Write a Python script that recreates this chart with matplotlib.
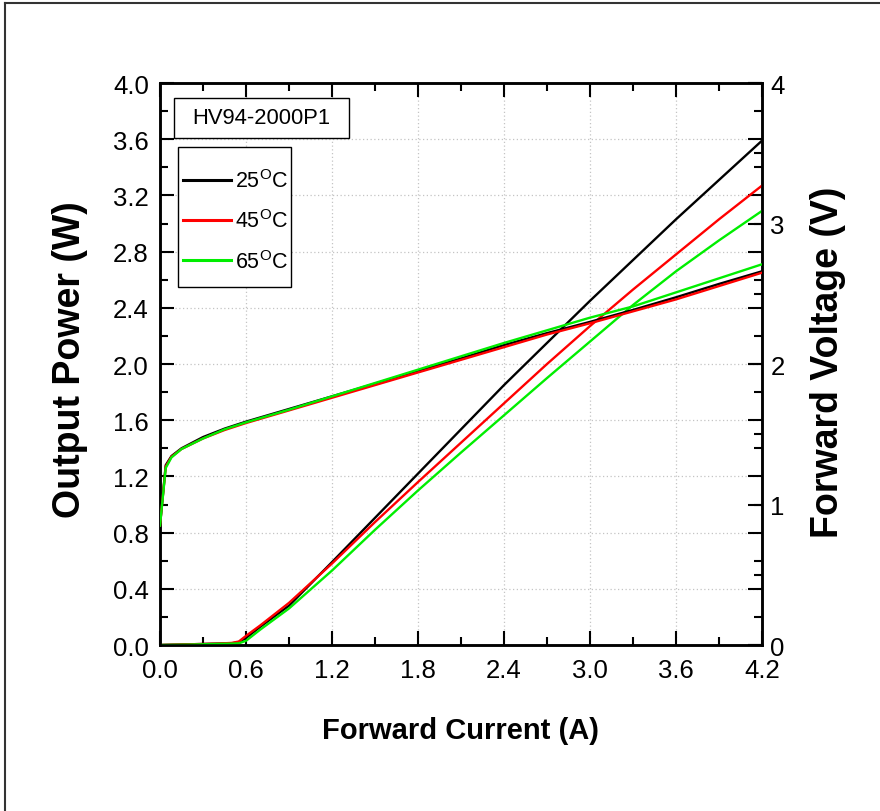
# L-I-V curves of HV94-2000P1 at three case temperatures
import numpy as np
import matplotlib
matplotlib.use("Agg")
import matplotlib.pyplot as plt
from matplotlib.ticker import MultipleLocator
from matplotlib.patches import Rectangle
from matplotlib.lines import Line2D

FONT = ["Liberation Sans", "DejaVu Sans"]
plt.rcParams["font.family"] = FONT
plt.rcParams["mathtext.fontset"] = "custom"
plt.rcParams["mathtext.rm"] = "Liberation Sans"

# ---- data ----
temps = ["25", "45", "65"]
colors = ["#000000", "#ff0000", "#00ee00"]

current_p = [0.0, 0.2, 0.4, 0.5, 0.55, 0.6, 0.7, 0.9, 1.2, 1.5, 1.8, 2.1, 2.4, 2.7, 3.0, 3.3, 3.6, 3.9, 4.2]
power_25 = [0.0, 0.005, 0.01, 0.012, 0.02, 0.05, 0.13, 0.28, 0.59, 0.905, 1.22, 1.535, 1.85, 2.15, 2.45, 2.74, 3.03, 3.31, 3.59]
power_45 = [0.0, 0.005, 0.01, 0.015, 0.025, 0.065, 0.14, 0.30, 0.58, 0.875, 1.16, 1.44, 1.72, 2.00, 2.27, 2.53, 2.78, 3.03, 3.27]
power_65 = [0.0, 0.003, 0.008, 0.01, 0.012, 0.03, 0.11, 0.26, 0.53, 0.82, 1.10, 1.37, 1.635, 1.90, 2.16, 2.42, 2.66, 2.88, 3.09]

current_v = [0.0, 0.04, 0.08, 0.15, 0.3, 0.45, 0.6, 0.9, 1.2, 1.5, 1.8, 2.1, 2.4, 2.7, 3.0, 3.3, 3.6, 3.9, 4.2]
volt_25 = [0.85, 1.28, 1.345, 1.40, 1.48, 1.54, 1.59, 1.68, 1.77, 1.86, 1.95, 2.04, 2.135, 2.22, 2.30, 2.385, 2.475, 2.57, 2.66]
volt_45 = [0.85, 1.27, 1.34, 1.395, 1.47, 1.53, 1.58, 1.67, 1.76, 1.85, 1.94, 2.03, 2.12, 2.21, 2.29, 2.375, 2.46, 2.555, 2.65]
volt_65 = [0.85, 1.26, 1.335, 1.395, 1.47, 1.535, 1.585, 1.675, 1.77, 1.865, 1.96, 2.055, 2.15, 2.24, 2.33, 2.41, 2.51, 2.61, 2.71]

x_ticks = [0.0, 0.6, 1.2, 1.8, 2.4, 3.0, 3.6, 4.2]
x_labels = ["0.0", "0.6", "1.2", "1.8", "2.4", "3.0", "3.6", "4.2"]
yl_ticks = [0.0, 0.4, 0.8, 1.2, 1.6, 2.0, 2.4, 2.8, 3.2, 3.6, 4.0]
yl_labels = ["0.0", "0.4", "0.8", "1.2", "1.6", "2.0", "2.4", "2.8", "3.2", "3.6", "4.0"]
yr_ticks = [0, 1, 2, 3, 4]
yr_labels = ["0", "1", "2", "3", "4"]


fig = plt.figure(figsize=(8.8, 8.12), dpi=100)
ax = fig.add_axes([0.1818, 0.2044, 0.6841, 0.6921])
ax2 = ax.twinx()

powers = [power_25, power_45, power_65]
volts = [volt_25, volt_45, volt_65]
handles = []
for t, c, p, v in zip(temps, colors, powers, volts):
    h, = ax.plot(current_p, p, color=c, lw=1.7, zorder=3)
    ax2.plot(current_v, v, color=c, lw=1.7, zorder=3)
    handles.append(h)

ax.set_xlim(0, 4.2)
ax.set_ylim(0, 4.0)
ax2.set_ylim(0, 4.0)

ax.set_xticks(x_ticks)
ax.set_xticklabels(x_labels, fontsize=18.5)
ax.set_yticks(yl_ticks)
ax.set_yticklabels(yl_labels, fontsize=18.5)
ax.xaxis.set_minor_locator(MultipleLocator(0.3))
ax.yaxis.set_minor_locator(MultipleLocator(0.2))
ax2.set_yticks(yr_ticks)
ax2.set_yticklabels(yr_labels, fontsize=18.5)
ax2.yaxis.set_minor_locator(MultipleLocator(0.5))

ax.tick_params(which="both", direction="in", top=True, right=True, width=1.5)
ax.tick_params(which="major", length=10)
ax.tick_params(which="minor", length=6)
ax.tick_params(axis="x", pad=9)
ax.tick_params(axis="y", pad=8)
ax2.tick_params(which="both", direction="in", width=1.5, pad=6)
ax2.tick_params(which="major", length=10)
ax2.tick_params(which="minor", length=6)

for a in (ax, ax2):
    for s in a.spines.values():
        s.set_linewidth(1.8)

ax.set_axisbelow(True)
ax.grid(True, which="major", color="#c4c4c4", linestyle=(0, (1, 2)), linewidth=0.9)

ax.set_xlabel("Forward Current (A)", fontsize=21, fontweight="bold")
ax.xaxis.set_label_coords(0.5, -0.151)
ax.xaxis.label.set_va("center")
ax.set_ylabel("Output Power (W)", fontsize=27, fontweight="bold")
ax.yaxis.set_label_coords(-0.149, 0.51)
ax.yaxis.label.set_va("center")
ax2.set_ylabel("Forward Voltage (V)", fontsize=27, fontweight="bold", rotation=90)
ax2.yaxis.set_label_coords(1.11, 0.505)
ax2.yaxis.label.set_va("center")

# part number box
fig.add_artist(Rectangle((174 / 880, 1 - 139 / 812), 175 / 880, 40 / 812,
                         transform=fig.transFigure, facecolor="white", edgecolor="black", lw=1.0, zorder=5))
fig.text(261.5 / 880, 1 - 119 / 812, "HV94-2000P1", fontsize=15.8,
         ha="center", va="center", zorder=6)

# legend on the top axes; its frame drawn separately so the padding matches
ax2.add_patch(Rectangle((178 / 880, 1 - 288 / 812), 113 / 880, 140 / 812, transform=fig.transFigure,
                        facecolor="white", edgecolor="black", lw=1.0, zorder=9, clip_on=False))
labels = [t + "$^{\\mathrm{O}}$C" for t in temps]
leg = ax2.legend(handles, labels, loc="center left", bbox_to_anchor=(183 / 880, 1 - 222 / 812),
                 bbox_transform=fig.transFigure, borderaxespad=0, borderpad=0, frameon=False,
                 prop={"size": 15.5}, handlelength=2.23, handletextpad=0.2, labelspacing=0.8)
for ln in leg.get_lines():
    ln.set_linewidth(2.2)
leg.set_zorder(10)

# outer frame (only top and left edges visible in the reference)
fig.add_artist(Line2D([5 / 880, 1.0], [1 - 4 / 812, 1 - 4 / 812], transform=fig.transFigure, color="#333333", lw=1.5))
fig.add_artist(Line2D([5 / 880, 5 / 880], [0.0, 1 - 4 / 812], transform=fig.transFigure, color="#333333", lw=1.5))

fig.savefig("out.png", dpi=100)
